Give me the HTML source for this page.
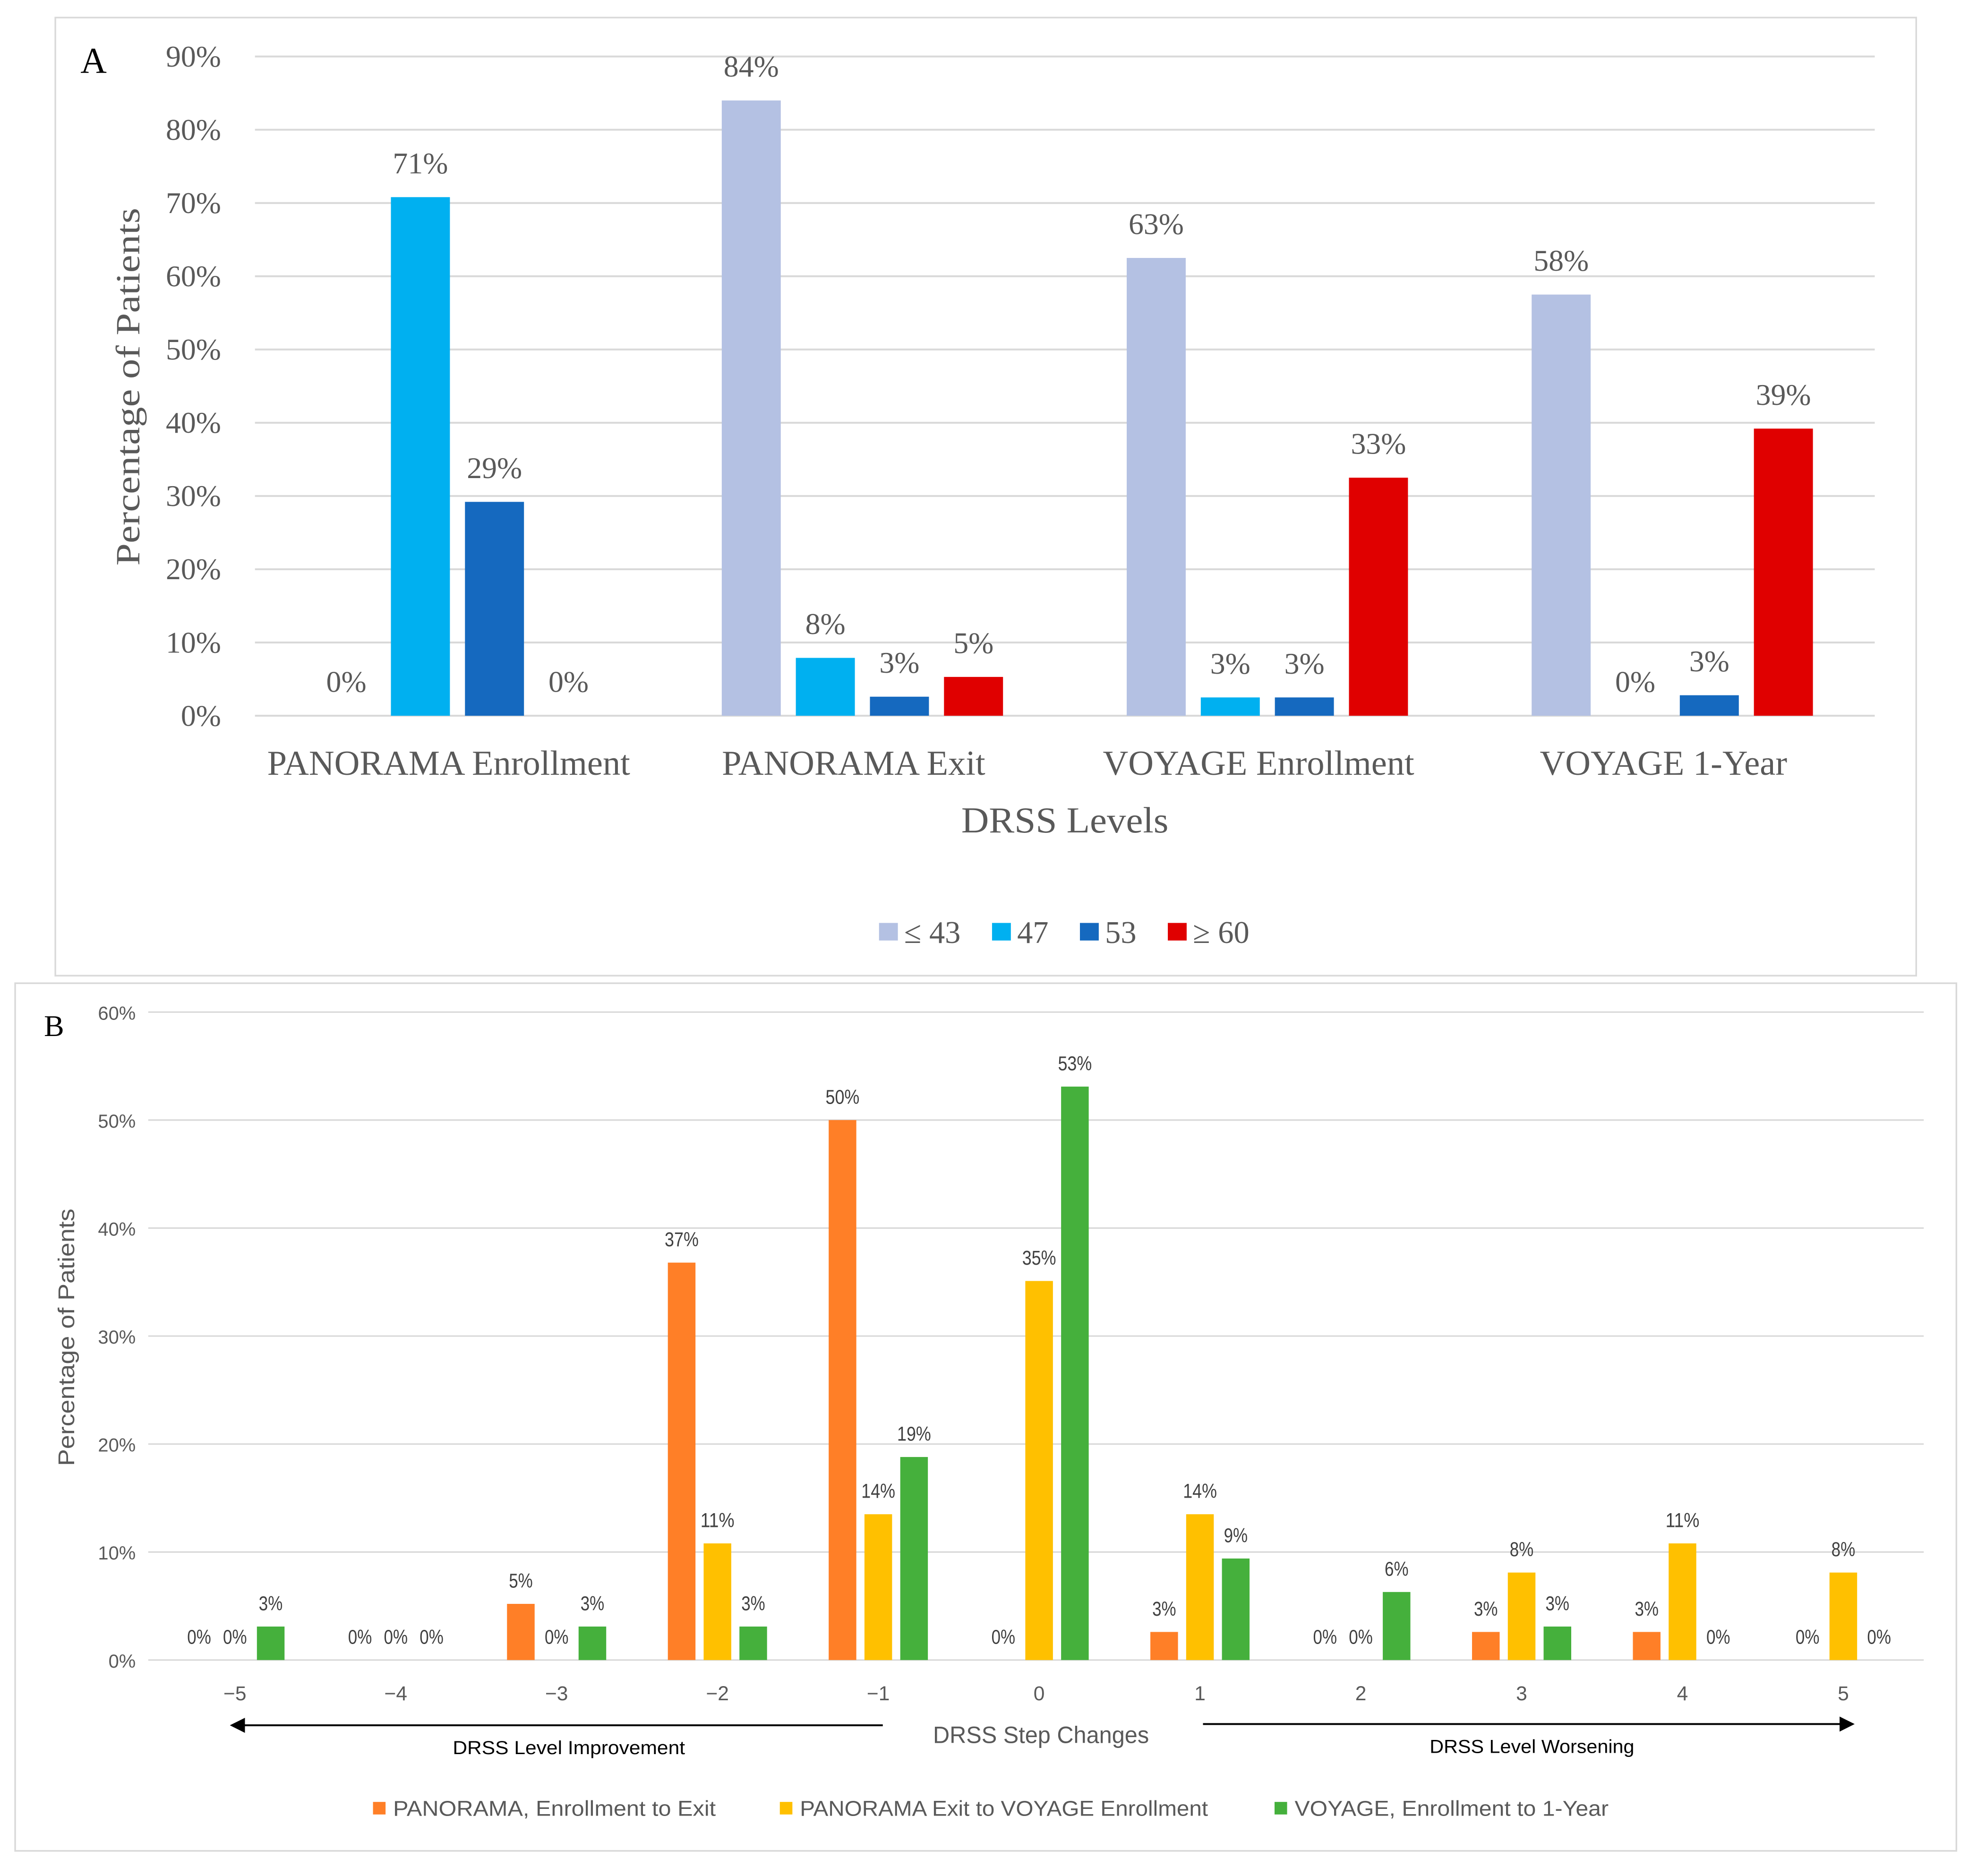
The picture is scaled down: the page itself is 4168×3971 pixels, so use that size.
<!DOCTYPE html>
<html><head><meta charset="utf-8">
<style>html,body{margin:0;padding:0;background:#fff}svg{display:block}</style>
</head><body>
<svg id="c" width="4168" height="3971" viewBox="0 0 1568 1494" xmlns="http://www.w3.org/2000/svg">
<rect x="0" y="0" width="1568" height="1494" fill="#fff"/>
<g id="pa">
<rect x="44" y="14" width="1482" height="763" fill="none" stroke="#d9d9d9" stroke-width="1.3"/>
<text x="64" y="58" font-family="Liberation Serif, serif" font-size="29" fill="#000">A</text>
<text transform="translate(111,308) rotate(-90)" text-anchor="middle" font-family="Liberation Serif, serif" font-size="27" fill="#595959" textLength="285" lengthAdjust="spacingAndGlyphs">Percentage of Patients</text>
<text x="848" y="663" text-anchor="middle" font-family="Liberation Serif, serif" font-size="29" fill="#595959" textLength="165" lengthAdjust="spacingAndGlyphs">DRSS Levels</text>
</g>
<g id="pb">
<rect x="12" y="783" width="1546" height="691" fill="none" stroke="#d9d9d9" stroke-width="1.3"/>
<text x="35" y="825" font-family="Liberation Serif, serif" font-size="24" fill="#000">B</text>
<text transform="translate(59,1065) rotate(-90)" text-anchor="middle" font-family="Liberation Sans, sans-serif" font-size="18" fill="#595959" textLength="205" lengthAdjust="spacingAndGlyphs">Percentage of Patients</text>
<text x="829" y="1388" text-anchor="middle" font-family="Liberation Sans, sans-serif" font-size="19" fill="#595959" textLength="172" lengthAdjust="spacingAndGlyphs">DRSS Step Changes</text>
<line x1="703" y1="1374" x2="192" y2="1374" stroke="#000" stroke-width="1.5"/>
<polygon points="183,1374 195,1368 195,1380" fill="#000"/>
<line x1="958" y1="1373" x2="1467" y2="1373" stroke="#000" stroke-width="1.5"/>
<polygon points="1477,1373 1465,1367 1465,1379" fill="#000"/>
<text x="453" y="1397" text-anchor="middle" font-family="Liberation Sans, sans-serif" font-size="15" fill="#000" textLength="185" lengthAdjust="spacingAndGlyphs">DRSS Level Improvement</text>
<text x="1220" y="1396" text-anchor="middle" font-family="Liberation Sans, sans-serif" font-size="15" fill="#000" textLength="163" lengthAdjust="spacingAndGlyphs">DRSS Level Worsening</text>
</g>
</svg>
<script>
const aCategories = ["PANORAMA Enrollment","PANORAMA Exit","VOYAGE Enrollment","VOYAGE 1-Year"];
const aSeriesNames = ["\u2264 43","47","53","\u2265 60"];
const aLe43 = [0,84,62.5,57.5];
const a47 = [70.8,7.9,2.5,0];
const a53 = [29.2,2.6,2.5,2.8];
const aGe60 = [0,5.3,32.5,39.2];
const aLabelsLe43 = ["0%","84%","63%","58%"];
const aLabels47 = ["71%","8%","3%","0%"];
const aLabels53 = ["29%","3%","3%","3%"];
const aLabelsGe60 = ["0%","5%","33%","39%"];
const aTicks = [0,10,20,30,40,50,60,70,80,90];

const bCategories = ["\u22125","\u22124","\u22123","\u22122","\u22121","0","1","2","3","4","5"];
const bSeriesNames = ["PANORAMA, Enrollment to Exit","PANORAMA Exit to VOYAGE Enrollment","VOYAGE, Enrollment to 1-Year"];
const bOrange = [0,0,5.2,36.8,50,0,2.6,0,2.6,2.6,0];
const bYellow = [0,0,0,10.8,13.5,35.1,13.5,0,8.1,10.8,8.1];
const bGreen = [3.1,0,3.1,3.1,18.8,53.1,9.4,6.3,3.1,0,0];
const bLabelsOrange = ["0%","0%","5%","37%","50%","0%","3%","0%","3%","3%","0%"];
const bLabelsYellow = ["0%","0%","0%","11%","14%","35%","14%","0%","8%","11%","8%"];
const bLabelsGreen = ["3%","0%","3%","3%","19%","53%","9%","6%","3%","0%","0%"];
const bTicks = [0,10,20,30,40,50,60];

const NS="http://www.w3.org/2000/svg";
function mk(tag, attrs, parent, text){const e=document.createElementNS(NS,tag);for(const k in attrs)e.setAttribute(k,attrs[k]);if(text!==undefined)e.textContent=text;parent.appendChild(e);return e;}

// Panel A
const pa=document.getElementById('pa');
const aY=v=>570-v*(525/90);
const aX0=203,aX1=1493,aBand=(aX1-aX0)/aCategories.length;
const aBarX=(ci,si)=>aX0+ci*aBand+aBand/2+(si-1.5)*59;
aTicks.forEach(t=>{
  const l=mk('line',{x1:aX0,x2:aX1,y1:aY(t),y2:aY(t),stroke:'#d9d9d9','stroke-width':1.5},pa);
  
  
  const tx=mk('text',{x:176,y:aY(t)+8,'text-anchor':'end','font-family':'Liberation Serif, serif','font-size':24,fill:'#595959'},pa,t+'%');
  
  
});
const aColors=['#B4C1E3','#00B0F0','#1569BF','#E00000'];
const aSeries=[aLe43,a47,a53,aGe60];
const aLabs=[aLabelsLe43,aLabels47,aLabels53,aLabelsGe60];
aSeries.forEach((s,si)=>{
  s.forEach((v,ci)=>{
    const cx=aBarX(ci,si);
    if(v>0){
      const r=mk('rect',{x:cx-23.5,y:aY(v),width:47,height:570-aY(v),fill:aColors[si]},pa);
      
      
    }
    const t=mk('text',{x:cx,y:aY(v)-19,'text-anchor':'middle','font-family':'Liberation Serif, serif','font-size':24,fill:'#595959'},pa,aLabs[si][ci]);
    
    
  });
});
aCategories.forEach((c,ci)=>{
  const t=mk('text',{x:aX0+ci*aBand+aBand/2-7,y:617,'text-anchor':'middle','font-family':'Liberation Serif, serif','font-size':28,fill:'#595959'},pa,c);
  
  
});
const aLegX=[700,790,860,930];
aSeriesNames.forEach((n,i)=>{
  const r=mk('rect',{x:aLegX[i],y:735,width:15,height:14,fill:aColors[i]},pa);
  
  
  const t=mk('text',{x:aLegX[i]+20,y:751,'font-family':'Liberation Serif, serif','font-size':25,fill:'#595959'},pa,n);
  
  
});

// Panel B
const pb=document.getElementById('pb');
const bY=v=>1322-v*(516/60);
const bX0=123,bX1=1532,bBand=(bX1-bX0)/bCategories.length;
const bBarX=(ci,si)=>bX0+ci*bBand+bBand/2+(si-1)*28.5;
bTicks.forEach(t=>{
  const l=mk('line',{x1:118,x2:1532,y1:bY(t),y2:bY(t),stroke:'#d9d9d9','stroke-width':1.2},pb);
  
  
  const tx=mk('text',{x:108,y:bY(t)+6,'text-anchor':'end','font-family':'Liberation Sans, sans-serif','font-size':15,fill:'#595959'},pb,t+'%');
  
  
});
const bColors=['#FF7F27','#FFC000','#45B03C'];
const bSeries=[bOrange,bYellow,bGreen];
const bLabs=[bLabelsOrange,bLabelsYellow,bLabelsGreen];
bSeries.forEach((s,si)=>{
  s.forEach((v,ci)=>{
    const cx=bBarX(ci,si);
    if(v>0){
      const r=mk('rect',{x:cx-11,y:bY(v),width:22,height:1322-bY(v),fill:bColors[si]},pb);
      
      
    }
    const t=mk('text',{x:cx,y:bY(v)-14+1,'text-anchor':'middle','font-family':'Liberation Sans, sans-serif','font-size':16,fill:'#404040','textLength':27,'lengthAdjust':'spacingAndGlyphs'},pb,bLabs[si][ci]);
    if(bLabs[si][ci].length===2) t.setAttribute('textLength',19);
    
    
  });
});
bCategories.forEach((c,ci)=>{
  const t=mk('text',{x:bX0+ci*bBand+bBand/2,y:1354,'text-anchor':'middle','font-family':'Liberation Sans, sans-serif','font-size':16,fill:'#595959'},pb,c);
  
  
});
const bLegX=[297,621,1015];
const bLegW=[257,325,250];
bSeriesNames.forEach((n,i)=>{
  const r=mk('rect',{x:bLegX[i],y:1435,width:10,height:10,fill:bColors[i]},pb);
  
  
  const t=mk('text',{x:bLegX[i]+16,y:1446,'font-family':'Liberation Sans, sans-serif','font-size':17,fill:'#595959','textLength':bLegW[i],'lengthAdjust':'spacingAndGlyphs'},pb,n);
  
  
});
</script>
</body></html>
